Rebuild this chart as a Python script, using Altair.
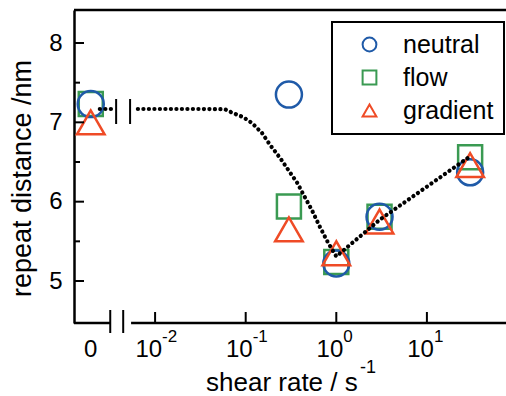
import altair as alt
import pandas as pd
import numpy as np

# ---------------- data ----------------
series = ["neutral", "flow", "gradient"]
colors = ["#1f5aa8", "#3a9a52", "#ef4b26"]
shapes = ["circle", "square", "triangle-up"]
shear_rate = [0, 0.3, 1, 3, 30]
neutral = [7.23, 7.35, 5.22, 5.81, 6.37]
flow = [7.23, 5.94, 5.24, 5.81, 6.56]
gradient = [7.00, 5.65, 5.35, 5.75, 6.46]

# dotted guide curve, x given as log10(shear rate); segment 0 lies in the "0" part of the broken axis
curve_seg = [0, 0] + [1] * 18
curve_logx = [-2.61, -2.47,
              -2.19, -1.5, -1.23, -1.14, -1.03, -0.93, -0.82, -0.73, -0.62,
              -0.53, -0.43, -0.36, -0.27, -0.18, -0.09, 0.0, 0.477, 1.45]
curve_y = [7.168, 7.168,
           7.168, 7.168, 7.165, 7.117, 7.067, 6.991, 6.865, 6.714, 6.55,
           6.40, 6.235, 6.084, 5.895, 5.68, 5.48, 5.31, 5.77, 6.55]

y_major = [5, 6, 7, 8]
y_minor = [5.5, 6.5, 7.5]
x_tick_logs = [-2, -1, 0, 1]
x_tick_exp = ["-2", "-1", "0", "1"]
zero_label = "0"

# ---------------- layout constants ----------------
ZERO_POS = -2.71
LX_MIN, LX_MAX = -2.895, 1.873
Y_MIN, Y_MAX = 4.4706, 8.416
W, H = 432, 313
FONT = "Liberation Sans"

xs = alt.Scale(domain=[LX_MIN, LX_MAX], nice=False, zero=False)
ys = alt.Scale(domain=[Y_MIN, Y_MAX], nice=False, zero=False)

legend = alt.Legend(title=None, orient="none", legendX=258, legendY=12,
                    strokeColor="black", padding=10, labelFontSize=25, labelFont=FONT,
                    labelColor="black", symbolSize=190, symbolStrokeWidth=2,
                    symbolOffset=15, labelOffset=21, rowPadding=7)

yaxis = alt.Axis(values=y_major, format="d", ticks=False, grid=False, domainColor="black",
                 domainWidth=2.5, labelFontSize=24, labelFont=FONT, labelColor="black",
                 labelPadding=12, title="repeat distance /nm", titleFontSize=27, titleFont=FONT,
                 titleFontWeight="normal", titleColor="black", titleX=-44, titleY=168,
                 titleAngle=-90, titleAlign="center", titleBaseline="alphabetic")

marker_size = {"neutral": 676, "flow": 576, "gradient": 760}
layers = []
for name, vals in [("flow", flow), ("neutral", neutral), ("gradient", gradient)]:
    df = pd.DataFrame({
        "series": name,
        "pos": [ZERO_POS if r == 0 else float(np.log10(r)) for r in shear_rate],
        "y": vals,
    })
    layers.append(
        alt.Chart(df).mark_point(filled=False, strokeWidth=2.5, opacity=1,
                                 size=marker_size[name]).encode(
            x=alt.X("pos:Q", scale=xs, axis=None),
            y=alt.Y("y:Q", scale=ys, axis=yaxis),
            color=alt.Color("series:N", scale=alt.Scale(domain=series, range=colors), legend=legend),
            shape=alt.Shape("series:N", scale=alt.Scale(domain=series, range=shapes), legend=legend),
        )
    )

curve = pd.DataFrame({"seg": curve_seg, "pos": curve_logx, "y": curve_y})
line = alt.Chart(curve).mark_line(color="black", strokeWidth=4.2, strokeCap="round",
                                  strokeDash=[0.1, 5.4]).encode(
    x=alt.X("pos:Q", scale=xs, axis=None),
    y=alt.Y("y:Q", scale=ys),
    detail="seg:N",
)

# y ticks (inward)
ytick_major = alt.Chart(pd.DataFrame({"y": y_major})).mark_rule(color="black", strokeWidth=2).encode(
    y=alt.Y("y:Q", scale=ys), x=alt.value(0), x2=alt.value(10))
ytick_minor = alt.Chart(pd.DataFrame({"y": y_minor})).mark_rule(color="black", strokeWidth=2).encode(
    y=alt.Y("y:Q", scale=ys), x=alt.value(0), x2=alt.value(6))

# x ticks (inward) and labels
xticks_df = pd.DataFrame({"pos": x_tick_logs, "exp": x_tick_exp, "base": ["10"] * 4})
xtick = alt.Chart(xticks_df).mark_rule(color="black", strokeWidth=2).encode(
    x=alt.X("pos:Q", scale=xs), y=alt.value(H), y2=alt.value(H - 11))
xlab_base = alt.Chart(xticks_df).mark_text(align="right", baseline="alphabetic", fontSize=24,
                                           font=FONT, color="black", dx=7).encode(
    x=alt.X("pos:Q", scale=xs), y=alt.value(H + 34), text="base:N")
xlab_exp = alt.Chart(xticks_df).mark_text(align="left", baseline="alphabetic", fontSize=17,
                                          font=FONT, color="black", dx=7).encode(
    x=alt.X("pos:Q", scale=xs), y=alt.value(H + 19), text="exp:N")
xlab_zero = alt.Chart(pd.DataFrame({"pos": [ZERO_POS], "t": [zero_label]})).mark_text(
    align="center", baseline="alphabetic", fontSize=24, font=FONT, color="black").encode(
    x=alt.X("pos:Q", scale=xs), y=alt.value(H + 34), text="t:N")

# x title
xtitle = alt.Chart(pd.DataFrame({"t": ["shear rate / s"]})).mark_text(
    align="left", baseline="alphabetic", fontSize=26, font=FONT, color="black").encode(
    x=alt.value(132), y=alt.value(H + 68), text="t:N")
xtitle_exp = alt.Chart(pd.DataFrame({"t": ["-1"]})).mark_text(
    align="left", baseline="alphabetic", fontSize=18, font=FONT, color="black").encode(
    x=alt.value(286), y=alt.value(H + 50), text="t:N")

# frame: top line and broken bottom line
top_line = alt.Chart(pd.DataFrame({"a": [0]})).mark_rule(color="black", strokeWidth=2.5).encode(
    x=alt.value(0), x2=alt.value(W), y=alt.value(0))
bottom_df = pd.DataFrame({"x0": [LX_MIN, -2.265], "x1": [-2.495, LX_MAX]})
bottom_line = alt.Chart(bottom_df).mark_rule(color="black", strokeWidth=2.5).encode(
    x=alt.X("x0:Q", scale=xs), x2="x1:Q", y=alt.value(H))

# break marks
axis_break = alt.Chart(pd.DataFrame({"pos": [-2.495, -2.352]})).mark_rule(
    color="black", strokeWidth=2).encode(x=alt.X("pos:Q", scale=xs), y=alt.value(H - 13), y2=alt.value(H + 10))
line_break = alt.Chart(pd.DataFrame({"pos": [-2.43, -2.276]})).mark_rule(
    color="black", strokeWidth=2).encode(x=alt.X("pos:Q", scale=xs), y=alt.value(89), y2=alt.value(114))

chart = alt.layer(
    *layers, line, ytick_major, ytick_minor, xtick, xlab_base, xlab_exp, xlab_zero,
    xtitle, xtitle_exp, top_line, bottom_line, axis_break, line_break
).properties(
    width=W, height=H,
    padding={"left": 74, "top": 10, "right": 0, "bottom": 73},
    autosize=alt.AutoSizeParams(type="none"),
).configure_view(stroke=None).configure_legend(strokeWidth=2)

chart.save("out.html", embed_options={"renderer": "svg", "actions": False})
